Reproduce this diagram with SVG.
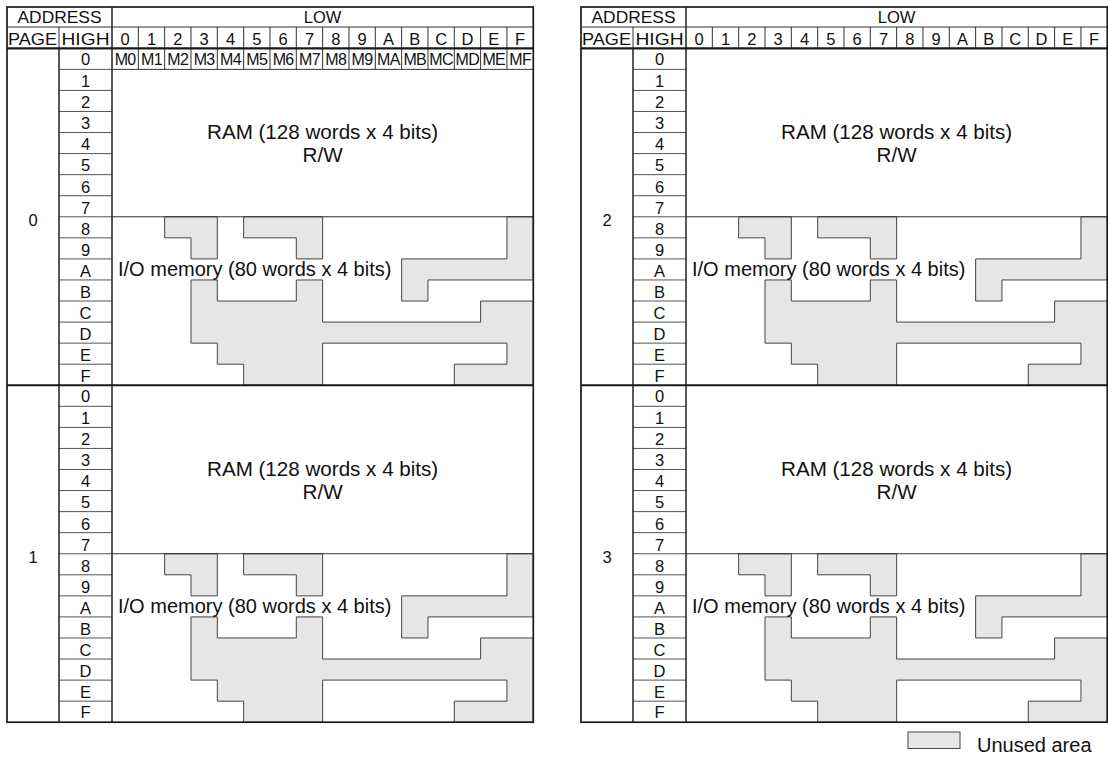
<svg xmlns="http://www.w3.org/2000/svg" width="1108" height="758" viewBox="0 0 1108 758">
<style>
text{font-family:"Liberation Sans",Arial,Helvetica,sans-serif;fill:#111}
.h{font-size:16.5px;text-anchor:middle}
.d{font-size:16.5px;text-anchor:middle}
.m{font-size:16px;text-anchor:middle;letter-spacing:-0.6px}
.big{font-size:20px}
.ram{font-size:20.6px;text-anchor:middle}
.frame{fill:none;stroke:#1a1a1a;stroke-width:1.7}
.thick{stroke:#1a1a1a;stroke-width:2.2}
.mid{stroke:#222;stroke-width:1.5}
.thin{stroke:#333;stroke-width:1}
.row{stroke:#555;stroke-width:1}
.unused{fill:#e6e6e6;stroke:#444;stroke-width:1}
</style>
<defs>
<g id="io-shapes">
<polygon class="unused" points="52.66,168.48 105.32,168.48 105.32,210.6 78.99,210.6 78.99,189.54 52.66,189.54"/>
<polygon class="unused" points="131.65,168.48 210.64,168.48 210.64,210.6 184.31,210.6 184.31,189.54 131.65,189.54"/>
<polygon class="unused" points="394.95,168.48 421.28,168.48 421.28,231.66 315.96,231.66 315.96,252.72 289.63,252.72 289.63,210.6 394.95,210.6"/>
<polygon class="unused" points="78.99,231.66 105.32,231.66 105.32,252.72 184.31,252.72 184.31,231.66 210.64,231.66 210.64,273.78 368.62,273.78 368.62,252.72 421.28,252.72 421.28,336.96 342.29,336.96 342.29,315.9 394.95,315.9 394.95,294.84 210.64,294.84 210.64,336.96 131.65,336.96 131.65,315.9 105.32,315.9 105.32,294.84 78.99,294.84"/>
</g>
<g id="high-lines">
<path class="row" d="M59,69.36H112M59,90.42H112M59,111.48H112M59,132.54H112M59,153.6H112M59,174.66H112M59,195.72H112M59,216.78H112M59,237.84H112M59,258.9H112M59,279.96H112M59,301.02H112M59,322.08H112M59,343.14H112M59,364.2H112"/>
<path class="thin" d="M112,216.78H533.28"/>
</g>
</defs>
<rect width="1108" height="758" fill="#fff"/>

<g id="table-left">
<rect x="7" y="7" width="526.28" height="715.22" fill="#fff"/>
<g id="page-0">
<use href="#io-shapes" transform="translate(112,48.3)"/>
<use href="#high-lines"/>
<path class="thin" d="M112,69.36H533.28M138.33,48.3V69.36M164.66,48.3V69.36M190.99,48.3V69.36M217.32,48.3V69.36M243.65,48.3V69.36M269.98,48.3V69.36M296.31,48.3V69.36M322.64,48.3V69.36M348.97,48.3V69.36M375.3,48.3V69.36M401.63,48.3V69.36M427.96,48.3V69.36M454.29,48.3V69.36M480.62,48.3V69.36M506.95,48.3V69.36"/>
<g class="m">
<text x="125.17" y="64.8">M0</text><text x="151.5" y="64.8">M1</text><text x="177.83" y="64.8">M2</text><text x="204.16" y="64.8">M3</text><text x="230.49" y="64.8">M4</text><text x="256.82" y="64.8">M5</text><text x="283.15" y="64.8">M6</text><text x="309.48" y="64.8">M7</text><text x="335.81" y="64.8">M8</text><text x="362.14" y="64.8">M9</text><text x="388.47" y="64.8">MA</text><text x="414.8" y="64.8">MB</text><text x="441.13" y="64.8">MC</text><text x="467.46" y="64.8">MD</text><text x="493.79" y="64.8">ME</text><text x="520.12" y="64.8">MF</text>
</g>
<g class="d">
<text x="85.5" y="65.3">0</text><text x="85.5" y="86.6">1</text><text x="85.5" y="107.8">2</text><text x="85.5" y="129">3</text><text x="85.5" y="150.2">4</text><text x="85.5" y="171.4">5</text><text x="85.5" y="192.6">6</text><text x="85.5" y="213.8">7</text><text x="85.5" y="235">8</text><text x="85.5" y="256">9</text><text x="85.5" y="277">A</text><text x="85.5" y="298">B</text><text x="85.5" y="319">C</text><text x="85.5" y="340">D</text><text x="85.5" y="361">E</text><text x="85.5" y="381.5">F</text>
<text x="33" y="226">0</text>
</g>
<text class="ram" x="322.64" y="139">RAM (128 words x 4 bits)</text>
<text class="ram" x="322.64" y="162">R/W</text>
<text class="big" x="118" y="276">I/O memory (80 words x 4 bits)</text>
</g>
<g id="page-1" transform="translate(0,336.96)">
<use href="#io-shapes" transform="translate(112,48.3)"/>
<use href="#high-lines"/>
<g class="d">
<text x="85.5" y="65.3">0</text><text x="85.5" y="86.6">1</text><text x="85.5" y="107.8">2</text><text x="85.5" y="129">3</text><text x="85.5" y="150.2">4</text><text x="85.5" y="171.4">5</text><text x="85.5" y="192.6">6</text><text x="85.5" y="213.8">7</text><text x="85.5" y="235">8</text><text x="85.5" y="256">9</text><text x="85.5" y="277">A</text><text x="85.5" y="298">B</text><text x="85.5" y="319">C</text><text x="85.5" y="340">D</text><text x="85.5" y="361">E</text><text x="85.5" y="381.5">F</text>
<text x="33" y="226">1</text>
</g>
<text class="ram" x="322.64" y="139">RAM (128 words x 4 bits)</text>
<text class="ram" x="322.64" y="162">R/W</text>
<text class="big" x="118" y="276">I/O memory (80 words x 4 bits)</text>
</g>
<g id="header-left">
<path class="thin" d="M7,27H533.28M59,27V48.3M138.33,27V48.3M164.66,27V48.3M190.99,27V48.3M217.32,27V48.3M243.65,27V48.3M269.98,27V48.3M296.31,27V48.3M322.64,27V48.3M348.97,27V48.3M375.3,27V48.3M401.63,27V48.3M427.96,27V48.3M454.29,27V48.3M480.62,27V48.3M506.95,27V48.3"/>
<text class="h" x="59.5" y="22.7" textLength="84" lengthAdjust="spacingAndGlyphs">ADDRESS</text>
<text class="h" x="322.64" y="23">LOW</text>
<text class="h" x="32.5" y="44.5" textLength="49" lengthAdjust="spacingAndGlyphs">PAGE</text>
<text class="h" x="85.5" y="44.5" textLength="48" lengthAdjust="spacingAndGlyphs">HIGH</text>
<g class="d">
<text x="125.17" y="44.5">0</text><text x="151.5" y="44.5">1</text><text x="177.83" y="44.5">2</text><text x="204.16" y="44.5">3</text><text x="230.49" y="44.5">4</text><text x="256.82" y="44.5">5</text><text x="283.15" y="44.5">6</text><text x="309.48" y="44.5">7</text><text x="335.81" y="44.5">8</text><text x="362.14" y="44.5">9</text><text x="388.47" y="44.5">A</text><text x="414.8" y="44.5">B</text><text x="441.13" y="44.5">C</text><text x="467.46" y="44.5">D</text><text x="493.79" y="44.5">E</text><text x="520.12" y="44.5">F</text>
</g>
</g>
<path class="mid" d="M59,48.3V722.22M112,7V722.22"/>
<path class="thick" d="M7,48.3H533.28M7,385.26H533.28"/>
<rect class="frame" x="7" y="7" width="526.28" height="715.22"/>
</g>

<g id="table-right" transform="translate(574,0)">
<rect x="7" y="7" width="526.28" height="715.22" fill="#fff"/>
<g id="page-2">
<use href="#io-shapes" transform="translate(112,48.3)"/>
<use href="#high-lines"/>
<g class="d">
<text x="85.5" y="65.3">0</text><text x="85.5" y="86.6">1</text><text x="85.5" y="107.8">2</text><text x="85.5" y="129">3</text><text x="85.5" y="150.2">4</text><text x="85.5" y="171.4">5</text><text x="85.5" y="192.6">6</text><text x="85.5" y="213.8">7</text><text x="85.5" y="235">8</text><text x="85.5" y="256">9</text><text x="85.5" y="277">A</text><text x="85.5" y="298">B</text><text x="85.5" y="319">C</text><text x="85.5" y="340">D</text><text x="85.5" y="361">E</text><text x="85.5" y="381.5">F</text>
<text x="33" y="226">2</text>
</g>
<text class="ram" x="322.64" y="139">RAM (128 words x 4 bits)</text>
<text class="ram" x="322.64" y="162">R/W</text>
<text class="big" x="118" y="276">I/O memory (80 words x 4 bits)</text>
</g>
<g id="page-3" transform="translate(0,336.96)">
<use href="#io-shapes" transform="translate(112,48.3)"/>
<use href="#high-lines"/>
<g class="d">
<text x="85.5" y="65.3">0</text><text x="85.5" y="86.6">1</text><text x="85.5" y="107.8">2</text><text x="85.5" y="129">3</text><text x="85.5" y="150.2">4</text><text x="85.5" y="171.4">5</text><text x="85.5" y="192.6">6</text><text x="85.5" y="213.8">7</text><text x="85.5" y="235">8</text><text x="85.5" y="256">9</text><text x="85.5" y="277">A</text><text x="85.5" y="298">B</text><text x="85.5" y="319">C</text><text x="85.5" y="340">D</text><text x="85.5" y="361">E</text><text x="85.5" y="381.5">F</text>
<text x="33" y="226">3</text>
</g>
<text class="ram" x="322.64" y="139">RAM (128 words x 4 bits)</text>
<text class="ram" x="322.64" y="162">R/W</text>
<text class="big" x="118" y="276">I/O memory (80 words x 4 bits)</text>
</g>
<g id="header-right">
<path class="thin" d="M7,27H533.28M59,27V48.3M138.33,27V48.3M164.66,27V48.3M190.99,27V48.3M217.32,27V48.3M243.65,27V48.3M269.98,27V48.3M296.31,27V48.3M322.64,27V48.3M348.97,27V48.3M375.3,27V48.3M401.63,27V48.3M427.96,27V48.3M454.29,27V48.3M480.62,27V48.3M506.95,27V48.3"/>
<text class="h" x="59.5" y="22.7" textLength="84" lengthAdjust="spacingAndGlyphs">ADDRESS</text>
<text class="h" x="322.64" y="23">LOW</text>
<text class="h" x="32.5" y="44.5" textLength="49" lengthAdjust="spacingAndGlyphs">PAGE</text>
<text class="h" x="85.5" y="44.5" textLength="48" lengthAdjust="spacingAndGlyphs">HIGH</text>
<g class="d">
<text x="125.17" y="44.5">0</text><text x="151.5" y="44.5">1</text><text x="177.83" y="44.5">2</text><text x="204.16" y="44.5">3</text><text x="230.49" y="44.5">4</text><text x="256.82" y="44.5">5</text><text x="283.15" y="44.5">6</text><text x="309.48" y="44.5">7</text><text x="335.81" y="44.5">8</text><text x="362.14" y="44.5">9</text><text x="388.47" y="44.5">A</text><text x="414.8" y="44.5">B</text><text x="441.13" y="44.5">C</text><text x="467.46" y="44.5">D</text><text x="493.79" y="44.5">E</text><text x="520.12" y="44.5">F</text>
</g>
</g>
<path class="mid" d="M59,48.3V722.22M112,7V722.22"/>
<path class="thick" d="M7,48.3H533.28M7,385.26H533.28"/>
<rect class="frame" x="7" y="7" width="526.28" height="715.22"/>
</g>

<g id="legend">
<rect class="unused" x="908" y="732" width="52" height="16.5"/>
<text class="big" x="977" y="752">Unused area</text>
</g>
</svg>
